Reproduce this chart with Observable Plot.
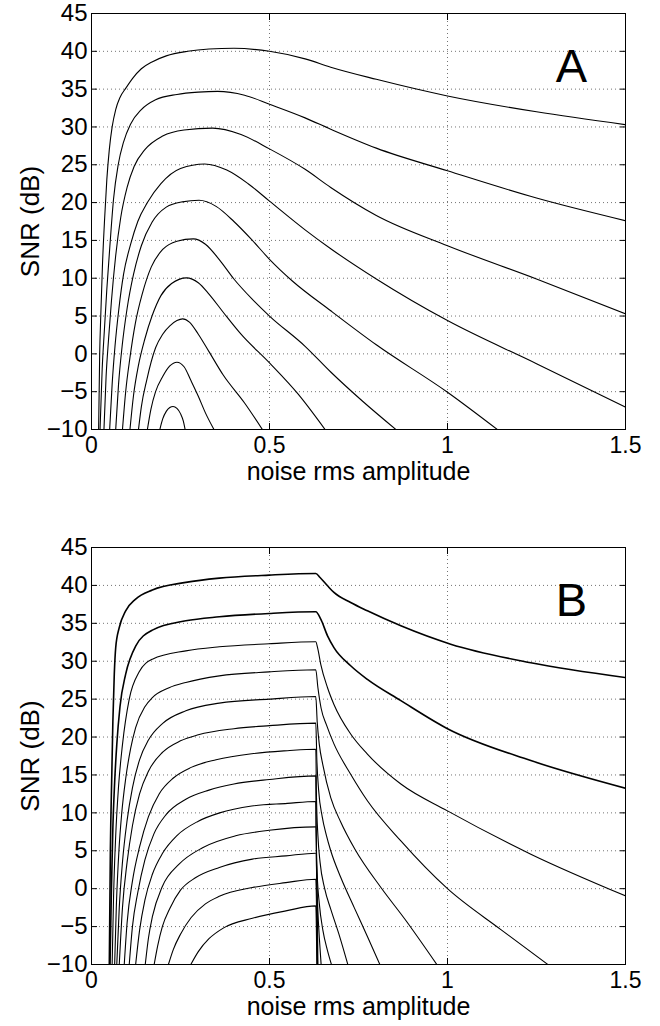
<!DOCTYPE html>
<html><head><meta charset="utf-8">
<script src="https://cdn.jsdelivr.net/npm/d3@7"></script>
<script src="https://cdn.jsdelivr.net/npm/@observablehq/plot@0.6"></script>
<style>
body{margin:0;background:#fff;}
#chart svg{display:block;}
</style></head><body><div id="chart"></div>
<script>
const xTicks = [0, 0.5, 1, 1.5];
const xTickLabels = ["0", "0.5", "1", "1.5"];
const yTicks = [-10, -5, 0, 5, 10, 15, 20, 25, 30, 35, 40, 45];
const yTickLabels = ["\u221210", "\u22125", "0", "5", "10", "15", "20", "25", "30", "35", "40", "45"];
const panelLabels = ["A", "B"];
const xLabel = "noise rms amplitude";
const yLabel = "SNR (dB)";

// Panel A curves: [noise rms amplitude, SNR dB]
const snrA1 = [[0.02,-10],[0.023,0],[0.026,5],[0.031,12],[0.037,18],[0.043,23],[0.05,27],[0.058,30],[0.068,32.3],[0.08,33.9],[0.096,35.1],[0.115,36.4],[0.14,37.7],[0.17,38.6],[0.21,39.4],[0.27,40],[0.33,40.3],[0.4,40.4],[0.5,40],[0.6,39],[0.672,37.9],[0.8,36.3],[1.0,34.1],[1.25,32.0],[1.5,30.3]];
const snrA2 = [[0.024,-10],[0.03,-2],[0.036,3],[0.043,8.5],[0.052,14.5],[0.062,20.5],[0.075,25],[0.09,28],[0.11,30.4],[0.14,32.3],[0.18,33.6],[0.24,34.3],[0.3,34.6],[0.354,34.7],[0.43,34.2],[0.5,33.0],[0.6,31.2],[0.672,29.7],[0.8,27.2],[1.0,24.2],[1.25,20.6],[1.5,17.6]];
const snrA3 = [[0.035,-10],[0.041,-3],[0.048,2],[0.056,7],[0.068,13],[0.082,18],[0.1,22],[0.12,24.8],[0.15,27],[0.2,28.8],[0.26,29.6],[0.34,29.85],[0.42,29],[0.5,27.1],[0.6,24.4],[0.672,22],[0.8,18.3],[1.0,14.3],[1.25,9.9],[1.5,5.3]];
const snrA4 = [[0.051,-10],[0.058,-4],[0.066,1],[0.077,6],[0.09,10.5],[0.11,14.5],[0.13,17.5],[0.157,20],[0.195,22.5],[0.25,24.5],[0.318,25.1],[0.38,24.3],[0.44,22.5],[0.5,20.2],[0.6,16.4],[0.672,13.9],[0.8,9.9],[1.0,4.4],[1.25,-1.3],[1.5,-7.05]];
const snrA5 = [[0.068,-10],[0.076,-4],[0.086,1],[0.1,6],[0.118,10.5],[0.14,14.3],[0.17,17.4],[0.21,19.4],[0.255,20.1],[0.302,20.3],[0.35,19.5],[0.4,17.5],[0.45,15.1],[0.5,12.5],[0.565,9.6],[0.672,5.7],[0.8,1.2],[1.0,-5.07],[1.14,-10]];
const snrA6 = [[0.087,-10],[0.096,-5],[0.108,-0.5],[0.123,4],[0.143,8],[0.168,11.5],[0.2,13.8],[0.24,14.9],[0.286,15.2],[0.32,14.5],[0.36,12.4],[0.4,9.9],[0.45,7.3],[0.5,5],[0.6,1.0],[0.672,-2.4],[0.76,-6.2],[0.855,-10]];
const snrA7 = [[0.108,-10],[0.118,-5.5],[0.132,-1.5],[0.15,2],[0.17,5],[0.195,7.7],[0.225,9.3],[0.267,10.05],[0.3,9.4],[0.33,7.9],[0.37,5.5],[0.42,2.6],[0.5,-1.2],[0.58,-5.3],[0.656,-10]];
const snrA8 = [[0.132,-10],[0.14,-7],[0.155,-3.5],[0.18,0.8],[0.2,2.6],[0.22,3.7],[0.24,4.4],[0.256,4.63],[0.275,4.2],[0.3,2.6],[0.33,0.3],[0.37,-2.8],[0.43,-6.5],[0.48,-10]];
const snrA9 = [[0.157,-10],[0.167,-7.3],[0.18,-5],[0.2,-3],[0.22,-1.6],[0.24,-1.1],[0.26,-1.7],[0.28,-3.6],[0.3,-5.6],[0.32,-7.8],[0.344,-10]];
const snrA10 = [[0.192,-10],[0.2,-8.6],[0.21,-7.6],[0.22,-7.1],[0.229,-6.96],[0.24,-7.2],[0.25,-7.9],[0.258,-8.9],[0.263,-10]];

// Panel B curves
const snrB1 = [[0.05,-10],[0.053,5],[0.057,15],[0.06,22],[0.064,28.3],[0.068,31.8],[0.078,34.45],[0.096,36.65],[0.124,38.2],[0.171,39.4],[0.265,40.4],[0.359,40.96],[0.499,41.36],[0.63,41.57],[0.642,41.05],[0.663,39.95],[0.681,39.07],[0.728,37.74],[0.775,36.65],[0.869,34.67],[1.009,32.25],[1.234,29.8],[1.5,27.85]];
const snrB2 = [[0.052,-10],[0.056,0],[0.06,8],[0.065,14],[0.071,19],[0.08,24],[0.096,28.3],[0.124,32.0],[0.171,34.1],[0.265,35.33],[0.359,35.86],[0.499,36.3],[0.63,36.52],[0.644,35.55],[0.663,33.35],[0.681,31.8],[0.728,29.4],[0.775,27.6],[0.869,24.8],[1.0,21.1],[1.234,16.9],[1.5,13.25]];
const snrB3 = [[0.058,-10],[0.062,-1],[0.068,7],[0.076,13.5],[0.087,19],[0.106,25],[0.134,28.6],[0.171,30.27],[0.265,31.37],[0.359,31.9],[0.499,32.3],[0.63,32.56],[0.635,31.8],[0.644,29.6],[0.663,26.5],[0.681,24.3],[0.728,20.4],[0.775,17.75],[0.869,13.8],[1.0,10.26],[1.234,4.55],[1.5,-0.95]];
const snrB4 = [[0.065,-10],[0.07,-2],[0.077,5],[0.085,10],[0.096,14.5],[0.11,18.5],[0.124,21.25],[0.15,24],[0.171,25.2],[0.218,26.5],[0.265,27.2],[0.359,28.07],[0.499,28.6],[0.63,28.87],[0.636,26.5],[0.645,23.8],[0.66,21.6],[0.681,19.1],[0.728,15.1],[0.775,11.6],[0.869,6.3],[1.0,0.0],[1.15,-5.4],[1.282,-10]];
const snrB5 = [[0.071,-10],[0.078,-2.5],[0.087,3.5],[0.1,9],[0.115,13.3],[0.135,17],[0.16,19.6],[0.2,21.8],[0.265,23.46],[0.359,24.47],[0.499,25.0],[0.63,25.34],[0.634,22],[0.64,19],[0.65,16.3],[0.672,12.0],[0.7,8.8],[0.74,5.2],[0.813,0.15],[0.88,-4],[0.97,-10]];
const snrB6 = [[0.078,-10],[0.087,-2.5],[0.1,3.5],[0.115,8.3],[0.135,12.5],[0.16,15.5],[0.2,18],[0.25,19.5],[0.3,20.3],[0.4,21.1],[0.5,21.5],[0.63,21.83],[0.633,17],[0.638,13],[0.648,9.5],[0.66,7],[0.672,5.0],[0.7,1.5],[0.738,-2.5],[0.775,-6.3],[0.81,-10]];
const snrB7 = [[0.092,-10],[0.1,-4.5],[0.115,1],[0.135,5.5],[0.16,9.5],[0.19,12.5],[0.23,14.6],[0.28,16],[0.35,17],[0.45,17.8],[0.55,18.2],[0.63,18.4],[0.632,12],[0.636,7],[0.642,3.5],[0.655,0],[0.672,-2.7],[0.695,-6],[0.72,-10]];
const snrB8 = [[0.106,-10],[0.115,-5],[0.13,-0.5],[0.15,3.8],[0.175,7.2],[0.21,9.8],[0.265,11.8],[0.33,13],[0.4,13.8],[0.5,14.4],[0.63,14.88],[0.631,8],[0.634,2],[0.64,-2],[0.65,-5.5],[0.662,-8],[0.674,-10]];
const snrB9 = [[0.124,-10],[0.135,-5.5],[0.15,-1.5],[0.171,1.9],[0.2,4.7],[0.24,7],[0.3,8.9],[0.36,10],[0.45,10.9],[0.55,11.25],[0.63,11.5],[0.632,3],[0.636,-3],[0.64,-6.5],[0.645,-10]];
const snrB10 = [[0.151,-10],[0.16,-6.5],[0.171,-3.7],[0.199,0.29],[0.246,3.23],[0.312,5.4],[0.405,6.97],[0.499,7.7],[0.63,8.15],[0.636,-10]];
const snrB11 = [[0.176,-10],[0.186,-7.5],[0.199,-5],[0.22,-2.6],[0.25,-0.2],[0.293,1.47],[0.359,2.8],[0.452,3.9],[0.546,4.33],[0.63,4.68],[0.635,-10]];
const snrB12 = [[0.216,-10],[0.23,-8],[0.25,-6],[0.28,-3.8],[0.32,-2.0],[0.359,-1.0],[0.452,0.15],[0.546,0.8],[0.63,1.25],[0.634,-10]];
const snrB13 = [[0.279,-10],[0.3,-8.3],[0.33,-6.6],[0.37,-5.2],[0.452,-3.9],[0.546,-2.93],[0.63,-2.27],[0.633,-10]];

const seriesA = [snrA1, snrA2, snrA3, snrA4, snrA5, snrA6, snrA7, snrA8, snrA9, snrA10];
const seriesB = [snrB1, snrB2, snrB3, snrB4, snrB5, snrB6, snrB7, snrB8, snrB9, snrB10, snrB11, snrB12, snrB13];
const boldB = [0, 1];

const FONT = "'Liberation Sans', Arial, Helvetica, sans-serif";

function panel(series, label, bold, height, marginTop, marginBottom) {
  const rows = series.flatMap((pts, k) => pts.map(([x, y]) => ({x, y, k, w: bold.includes(k) ? 1.6 : 1.1})));
  return Plot.plot({
    width: 660, height, marginLeft: 91, marginRight: 35, marginTop, marginBottom,
    x: {domain: [0, 1.5]}, y: {domain: [-10, 45]},
    style: {fontFamily: FONT, fontSize: "24px", color: "#000", background: "#fff", overflow: "visible"},
    marks: [
      Plot.gridX(xTicks, {stroke: "#000", strokeOpacity: 0.55, strokeDasharray: "1,3"}),
      Plot.gridY(yTicks, {stroke: "#000", strokeOpacity: 0.55, strokeDasharray: "1,3"}),
      Plot.line(rows, {x: "x", y: "y", z: "k", curve: "monotone-x", stroke: "#000", strokeWidth: "w", clip: true}),
      Plot.frame({stroke: "#000", strokeWidth: 1}),
      Plot.axisX(xTicks, {anchor: "bottom", tickSize: -6, fill: "none", label: null}),
      Plot.axisX(xTicks, {anchor: "top", tickSize: -6, fill: "none", label: null}),
      Plot.axisY(yTicks, {anchor: "left", tickSize: -6, fill: "none", label: null}),
      Plot.axisY(yTicks, {anchor: "right", tickSize: -6, fill: "none", label: null}),
      Plot.axisX(xTicks, {anchor: "bottom", tickSize: 0, tickPadding: 7, tickFormat: (d, i) => xTickLabels[i], label: null, fontSize: 23}),
      Plot.axisY(yTicks, {anchor: "left", tickSize: 0, tickPadding: 4, tickFormat: (d, i) => yTickLabels[i], label: null, fontSize: 24}),
      Plot.text([xLabel], {frameAnchor: "bottom", dy: 42, lineAnchor: "middle", textAnchor: "middle", fontSize: 25}),
      Plot.text([yLabel], {frameAnchor: "left", dx: -61, rotate: -90, lineAnchor: "middle", textAnchor: "middle", fontSize: 26}),
      Plot.text([label], {frameAnchor: "top-right", dx: -54, dy: 53, lineAnchor: "middle", textAnchor: "middle", fontSize: 47})
    ]
  });
}

const root = document.getElementById("chart");
root.appendChild(panel(seriesA, panelLabels[0], [], 520, 13, 91));
root.appendChild(panel(seriesB, panelLabels[1], boldB, 506, 27, 62));
</script></body></html>
